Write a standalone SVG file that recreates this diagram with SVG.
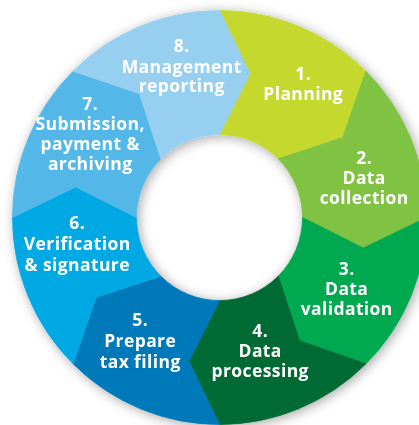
<svg xmlns="http://www.w3.org/2000/svg" width="419" height="425" viewBox="0 0 419 425">
  <defs>
    <filter id="shadow" x="-20%" y="-20%" width="140%" height="140%">
      <feGaussianBlur in="SourceAlpha" stdDeviation="6"/>
      <feOffset dx="2" dy="2" result="b"/>
      <feFlood flood-color="#000" flood-opacity="0.35"/>
      <feComposite in2="b" operator="in" result="s"/>
      <feMerge><feMergeNode in="s"/><feMergeNode in="SourceGraphic"/></feMerge>
    </filter>
  </defs>
  <style>
    .seg { stroke-width: 0.8; stroke-linejoin: miter; }
    .lbl { font-family: "Open Sans", "Noto Sans", "DejaVu Sans", sans-serif; font-weight: 700; font-size: 17.5px; letter-spacing: 0.4px; fill: #ffffff; text-anchor: middle; }
  </style>
  <rect x="0" y="0" width="419" height="425" fill="#ffffff"/>
  <g id="ring" filter="url(#shadow)">
    <g id="node1">
      <path class="seg" fill="#C5D82F" stroke="#C5D82F" d="M 219.5,10.5 A 207 207 0 0 1 365.87,71.13 L 342.78,137.44 L 278.19,158.81 A 83 83 0 0 0 219.5,134.5 L 250.06,73.71 Z"/>
      <text class="lbl"><tspan x="303.2" y="80">1.</tspan><tspan x="303.2" y="100">Planning</tspan></text>
    </g>
    <g id="node2">
      <path class="seg" fill="#80C242" stroke="#80C242" d="M 365.87,71.13 A 207 207 0 0 1 426.5,217.5 L 363.29,248.06 L 302.5,217.5 A 83 83 0 0 0 278.19,158.81 L 342.78,137.44 Z"/>
      <text class="lbl"><tspan x="364.2" y="164">2.</tspan><tspan x="364.2" y="184">Data</tspan><tspan x="364.2" y="204">collection</tspan></text>
    </g>
    <g id="node3">
      <path class="seg" fill="#00A84F" stroke="#00A84F" d="M 426.5,217.5 A 207 207 0 0 1 365.87,363.87 L 299.56,340.78 L 278.19,276.19 A 83 83 0 0 0 302.5,217.5 L 363.29,248.06 Z"/>
      <text class="lbl"><tspan x="346.7" y="275">3.</tspan><tspan x="346.7" y="295">Data</tspan><tspan x="346.7" y="315">validation</tspan></text>
    </g>
    <g id="node4">
      <path class="seg" fill="#006A35" stroke="#006A35" d="M 365.87,363.87 A 207 207 0 0 1 219.5,424.5 L 188.94,361.29 L 219.5,300.5 A 83 83 0 0 0 278.19,276.19 L 299.56,340.78 Z"/>
      <text class="lbl"><tspan x="260.2" y="337">4.</tspan><tspan x="260.2" y="357">Data</tspan><tspan x="260.2" y="377">processing</tspan></text>
    </g>
    <g id="node5">
      <path class="seg" fill="#0079BA" stroke="#0079BA" d="M 219.5,424.5 A 207 207 0 0 1 73.13,363.87 L 96.22,297.56 L 160.81,276.19 A 83 83 0 0 0 219.5,300.5 L 188.94,361.29 Z"/>
      <text class="lbl"><tspan x="140.2" y="326">5.</tspan><tspan x="140.2" y="347">Prepare</tspan><tspan x="140.2" y="368">tax filing</tspan></text>
    </g>
    <g id="node6">
      <path class="seg" fill="#00A9E3" stroke="#00A9E3" d="M 73.13,363.87 A 207 207 0 0 1 12.5,217.5 L 75.71,186.94 L 136.5,217.5 A 83 83 0 0 0 160.81,276.19 L 96.22,297.56 Z"/>
      <text class="lbl"><tspan x="77.2" y="229">6.</tspan><tspan x="77.2" y="250">Verification</tspan><tspan x="77.2" y="271">&amp; signature</tspan></text>
    </g>
    <g id="node7">
      <path class="seg" fill="#52B8E7" stroke="#52B8E7" d="M 12.5,217.5 A 207 207 0 0 1 73.13,71.13 L 139.44,93.71 L 160.81,158.81 A 83 83 0 0 0 136.5,217.5 L 75.71,186.94 Z"/>
      <text class="lbl"><tspan x="90.2" y="110">7.</tspan><tspan x="90.2" y="130">Submission,</tspan><tspan x="90.2" y="150">payment &amp;</tspan><tspan x="90.2" y="170">archiving</tspan></text>
    </g>
    <g id="node8">
      <path class="seg" fill="#97CFF0" stroke="#97CFF0" d="M 73.13,71.13 A 207 207 0 0 1 219.5,10.5 L 250.06,73.71 L 219.5,134.5 A 83 83 0 0 0 160.81,158.81 L 139.44,93.71 Z"/>
      <text class="lbl"><tspan x="181.7" y="52">8.</tspan><tspan x="181.7" y="72.5">Management</tspan><tspan x="181.7" y="92">reporting</tspan></text>
    </g>
  </g>
  <g id="connectors"/>
</svg>
